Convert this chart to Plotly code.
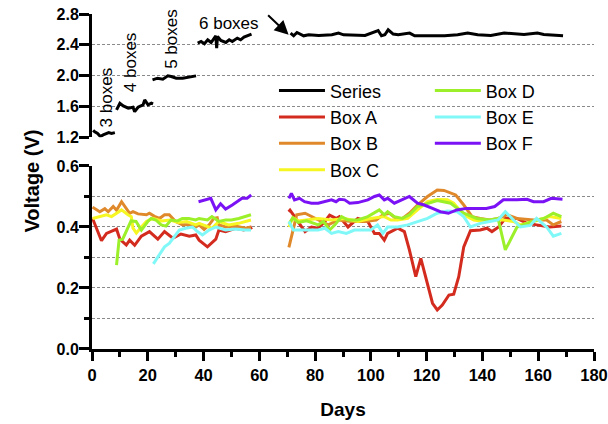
import plotly.graph_objects as go

# ---------------- data ----------------
series_days = [0.4, 1.0, 2.0, 3.0, 4.0, 5.0, 6.0, 7.0, 8.2, None,
               8.8, 10.0, 11.2, 13.0, 14.7, 15.3, 16.5, 17.7, 18.3, 18.9, 20.1, 21.3, 21.9, None,
               21.7, 23.5, 25.4, 26.6, 27.2, 28.4, 30.2, 32.5, 34.3, 35.5, 37.3, None,
               37.9, 39.1, 40.3, 41.5, 42.7, 43.8, 44.4, 44.7, 45.0, 46.2, 48.0, 49.2, 50.3, 52.1, 53.3, 54.5, 55.7, 57.2, None,
               71.2, 72.3, 73.5, 74.7, 75.9, 77.7, 81.3, 86.0, 88.4, 90.2, 97.9, 102.6, 103.8, 105.0, 106.2, 108.0,
               109.8, 113.9, 115.7, 120.5, 126.4, 131.1, 134.7, 138.3, 143.0, 147.8, 151.4, 154.9, 159.7, 162.0, 168.9]
series_volts = [1.29, 1.27, 1.25, 1.21, 1.23, 1.24, 1.26, 1.25, 1.26, None,
                1.555, 1.642, 1.607, 1.577, 1.59, 1.533, 1.59, 1.607, 1.62, 1.685, 1.62, 1.642, 1.633, None,
                1.945, 1.967, 1.954, 1.98, 1.997, 1.988, 1.967, 1.967, 1.975, 1.988, 1.997, None,
                2.422, 2.443, 2.413, 2.465, 2.43, 2.487, 2.517, 2.357, 2.508, 2.456, 2.43, 2.465, 2.443, 2.487, 2.465, 2.50, 2.517, 2.539, None,
                2.552, 2.517, 2.56, 2.539, 2.517, 2.53, 2.521, 2.53, 2.552, 2.53, 2.521, 2.586, 2.517, 2.53, 2.595, 2.539,
                2.53, 2.552, 2.517, 2.517, 2.517, 2.53, 2.552, 2.53, 2.521, 2.552, 2.543, 2.535, 2.552, 2.535, 2.517]

box_a_days = [0.2, 1.5, 3.4, 5.2, 7.0, 8.8, 10.0, 12.3, 13.5, 15.3, 17.7, 20.6, 23.6, 26.0, 29.0, 31.9, 34.9, 37.2, 38.4,
              41.4, 44.4, 45.5, 47.9, 51.4, 54.4, 56.8, 57.2, None,
              70.5, 71.0, 72.2, 73.4, 76.4, 78.7, 81.1, 83.5, 85.2, 87.5, 88.7, 91.8, 95.3, 98.9, 101.3, 103.0, 104.8,
              106.0, 109.6, 112.0, 113.8, 116.1, 117.9, 120.3, 122.1, 123.8, 125.6, 128.0, 129.7, 131.5, 133.3, 135.7,
              139.2, 141.6, 143.4, 145.8, 148.2, 152.4, 156.0, 159.4, 164.1, 168.3]
box_a_volts = [0.428, 0.40, 0.355, 0.379, 0.385, 0.393, 0.36, 0.341, 0.357, 0.34, 0.37, 0.385, 0.36, 0.385, 0.363, 0.377,
               0.37, 0.374, 0.357, 0.335, 0.36, 0.39, 0.385, 0.396, 0.39, 0.399, 0.392, None,
               0.45, 0.455, 0.44, 0.423, 0.385, 0.40, 0.396, 0.418, 0.439, 0.428, 0.434, 0.40, 0.428, 0.418, 0.379, 0.379,
               0.357, 0.379, 0.396, 0.385, 0.325, 0.237, 0.297, 0.215, 0.15, 0.128, 0.144, 0.177, 0.18, 0.237, 0.335,
               0.388, 0.39, 0.396, 0.385, 0.40, 0.428, 0.428, 0.412, 0.407, 0.40, 0.403]

box_b_days = [0.2, 2.8, 4.6, 5.8, 7.6, 8.8, 10.6, 12.3, 13.5, 14.7, 16.5, 19.5, 20.6, 22.4, 24.2, 26.0, 27.7, 30.0, 32.4,
              34.7, 37.2, 38.4, 40.2, 42.0, 43.7, 44.9, 45.5, 47.9, 51.4, 55.0, 57.0, None,
              70.6, 71.5, 72.6, 73.4, 76.4, 78.7, 81.1, 84.7, 88.3, 93.0, 97.8, 101.9, 104.3, 106.7, 109.0, 111.3,
              113.8, 116.7, 120.3, 123.8, 126.2, 128.6, 130.4, 133.3, 136.3, 139.2, 142.6, 145.6, 148.8, 152.4,
              158.3, 163.0, 165.4, 168.3]
box_b_volts = [0.465, 0.45, 0.46, 0.45, 0.467, 0.455, 0.483, 0.458, 0.445, 0.45, 0.443, 0.44, 0.445, 0.435, 0.428, 0.44,
               0.44, 0.418, 0.407, 0.407, 0.40, 0.407, 0.392, 0.407, 0.428, 0.43, 0.407, 0.40, 0.403, 0.396, 0.40, None,
               0.333, 0.367, 0.418, 0.44, 0.445, 0.434, 0.423, 0.407, 0.423, 0.418, 0.418, 0.423, 0.44, 0.445, 0.428,
               0.428, 0.445, 0.472, 0.50, 0.521, 0.52, 0.51, 0.505, 0.472, 0.434, 0.428, 0.423, 0.428, 0.44, 0.428,
               0.423, 0.423, 0.407, 0.418]

box_c_days = [0.2, 2.8, 5.2, 7.0, 9.4, 10.6, 12.9, 14.1, 14.7, 15.9, 17.7, 19.5, 21.8, 25.0, 28.0, 31.0, 34.0, 37.2,
              38.4, 43.0, 45.5, 49.0, 52.6, 57.0, None,
              70.6, 72.0, 74.0, 78.0, 81.1, 85.9, 90.6, 95.3, 100.0, 104.8, 107.2, 109.6, 113.2, 116.7, 120.3, 123.8,
              127.4, 129.7, 133.3, 136.9, 140.4, 144.0, 147.5, 151.1, 153.6, 158.3, 164.1, 168.3]
box_c_volts = [0.428, 0.434, 0.44, 0.434, 0.45, 0.456, 0.44, 0.434, 0.396, 0.38, 0.40, 0.418, 0.428, 0.42, 0.423, 0.415,
               0.418, 0.407, 0.412, 0.396, 0.418, 0.407, 0.412, 0.423, None,
               0.40, 0.43, 0.42, 0.425, 0.428, 0.423, 0.428, 0.418, 0.428, 0.434, 0.423, 0.423, 0.428, 0.456, 0.483,
               0.49, 0.489, 0.478, 0.44, 0.423, 0.418, 0.423, 0.423, 0.418, 0.407, 0.418, 0.434, 0.428]

box_d_days = [8.8, 9.7, 11.0, 12.5, 14.0, 15.8, 17.7, 20.0, 21.2, 22.9, 24.8, 26.5, 28.3, 30.7, 32.4, 34.7, 37.2, 38.4,
              41.4, 43.0, 45.5, 47.9, 50.0, 52.6, 55.0, 57.0, None,
              70.6, 72.0, 74.0, 77.0, 81.1, 83.0, 85.2, 87.1, 89.5, 91.8, 95.3, 98.9, 103.0, 104.8, 106.0, 108.4,
              111.3, 113.8, 116.7, 120.3, 123.8, 128.6, 133.3, 138.0, 142.6, 145.6, 148.2, 152.4, 156.0, 159.4,
              162.0, 165.4, 168.3]
box_d_volts = [0.275, 0.357, 0.36, 0.39, 0.42, 0.418, 0.39, 0.418, 0.428, 0.423, 0.407, 0.403, 0.423, 0.42, 0.428, 0.428,
               0.423, 0.428, 0.423, 0.434, 0.418, 0.423, 0.423, 0.428, 0.434, 0.44, None,
               0.41, 0.43, 0.415, 0.42, 0.407, 0.418, 0.39, 0.407, 0.434, 0.423, 0.423, 0.434, 0.456, 0.44, 0.45, 0.434,
               0.428, 0.44, 0.467, 0.478, 0.487, 0.478, 0.445, 0.428, 0.423, 0.428, 0.325, 0.40, 0.412, 0.423,
               0.428, 0.445, 0.434]

box_e_days = [22.0, 24.2, 26.0, 27.7, 29.5, 31.3, 33.6, 36.0, 37.8, 39.6, 42.0, 44.4, 47.9, 51.4, 55.0, 57.0, None,
              70.6, 72.2, 76.4, 81.1, 83.5, 85.9, 88.3, 91.2, 94.1, 97.0, 100.0, 102.4, 104.3, 106.0, 109.6, 113.2,
              116.7, 120.3, 123.8, 127.4, 131.0, 133.3, 135.7, 139.2, 142.6, 145.6, 148.2, 151.1, 153.6, 157.1,
              159.4, 163.0, 165.4, 168.3]
box_e_volts = [0.279, 0.31, 0.335, 0.346, 0.368, 0.39, 0.396, 0.40, 0.385, 0.374, 0.39, 0.40, 0.39, 0.393, 0.39, 0.39, None,
               0.418, 0.39, 0.39, 0.39, 0.396, 0.379, 0.385, 0.379, 0.39, 0.39, 0.39, 0.407, 0.379, 0.40, 0.40, 0.407,
               0.418, 0.428, 0.445, 0.452, 0.45, 0.434, 0.40, 0.412, 0.418, 0.423, 0.45, 0.423, 0.40, 0.405,
               0.428, 0.40, 0.37, 0.379]

box_f_days = [38.2, 40.2, 42.6, 44.4, 46.1, 47.9, 50.3, 53.8, 55.6, 57.1, None,
              70.6, 71.5, 72.6, 74.4, 76.2, 78.7, 81.1, 83.5, 85.9, 87.5, 88.7, 90.6, 92.4, 95.3, 98.9, 101.3, 103.0,
              104.8, 106.0, 108.4, 111.3, 113.8, 116.7, 119.1, 122.1, 124.9, 127.8, 130.8, 134.3, 137.9, 141.4,
              144.4, 147.5, 152.4, 156.0, 158.3, 161.9, 164.7, 168.7]
box_f_volts = [0.483, 0.489, 0.494, 0.456, 0.476, 0.459, 0.472, 0.494, 0.494, 0.505, None,
               0.494, 0.51, 0.489, 0.494, 0.483, 0.478, 0.478, 0.483, 0.489, 0.483, 0.491, 0.489, 0.478, 0.48, 0.489,
               0.50, 0.505, 0.489, 0.494, 0.478, 0.489, 0.50, 0.478, 0.472, 0.461, 0.45, 0.445, 0.456, 0.461, 0.461,
               0.461, 0.467, 0.489, 0.489, 0.491, 0.483, 0.483, 0.494, 0.491]

box_names = ["Box A", "Box B", "Box C", "Box D", "Box E", "Box F"]
box_colors = ["#D42B1F", "#E0892B", "#F6F622", "#9CF02A", "#80F8F8", "#7A12F5"]
box_days = [box_a_days, box_b_days, box_c_days, box_d_days, box_e_days, box_f_days]
box_volts = [box_a_volts, box_b_volts, box_c_volts, box_d_volts, box_e_volts, box_f_volts]

x_ticks = list(range(0, 181, 20))
y_low_ticks = [0.0, 0.2, 0.4, 0.6]
y_high_ticks = [1.2, 1.6, 2.0, 2.4, 2.8]

FONT = "Liberation Sans, Arial, Helvetica, sans-serif"
GRID = "#8a8a8a"

fig = go.Figure()
fig.add_trace(go.Scatter(x=series_days, y=series_volts, mode="lines", name="Series",
                         line=dict(color="black", width=3), xaxis="x", yaxis="y2",
                         legend="legend", connectgaps=False))
for i, (nm, col, dd, vv) in enumerate(zip(box_names, box_colors, box_days, box_volts)):
    fig.add_trace(go.Scatter(x=dd, y=vv, mode="lines", name=nm,
                             line=dict(color=col, width=3), xaxis="x", yaxis="y",
                             legend="legend" if i < 3 else "legend2", connectgaps=False))

axis_common = dict(showline=True, linewidth=3, linecolor="black", ticks="outside",
                   tickwidth=3, tickcolor="black", zeroline=False, mirror=False, automargin=False)

fig.update_layout(
    width=608, height=424,
    margin=dict(l=92, r=14, t=14, b=75),
    paper_bgcolor="white", plot_bgcolor="white",
    font=dict(family=FONT, color="black"),
    xaxis=dict(range=[0, 180], tickvals=x_ticks, ticklen=9, anchor="y",
               showgrid=False, ticklabelstandoff=0, ticklabeloverflow="allow",
               tickfont=dict(size=16.5, weight="bold", family=FONT),
               minor=dict(dtick=10, ticklen=5, tickwidth=3, tickcolor="black", ticks="outside"),
               title=dict(text="Days", font=dict(size=19, weight="bold", family=FONT), standoff=20),
               **axis_common),
    yaxis=dict(domain=[0, 0.5463], range=[0, 0.6], tickvals=y_low_ticks, tickformat=".1f",
               ticklen=10, anchor="x", showgrid=True, gridcolor=GRID, gridwidth=1, griddash="3px,2px",
               ticklabelstandoff=-3,
               tickfont=dict(size=16, weight="bold", family=FONT),
               minor=dict(dtick=0.1, ticklen=5, tickwidth=3, tickcolor="black", ticks="outside",
                          showgrid=True, gridcolor=GRID, gridwidth=1, griddash="3px,2px"),
               **axis_common),
    yaxis2=dict(domain=[0.632, 1], range=[1.2, 2.8], tickvals=y_high_ticks, tickformat=".1f",
                ticklen=10, anchor="x", showgrid=True, gridcolor=GRID, gridwidth=1, griddash="3px,2px",
                ticklabelstandoff=-3,
                tickfont=dict(size=16, weight="bold", family=FONT),
                **axis_common),
    legend=dict(x=0.3625, y=0.826, xanchor="left", yanchor="top", bgcolor="rgba(0,0,0,0)",
                font=dict(size=18, family=FONT), itemwidth=46, tracegroupgap=0),
    legend2=dict(x=0.673, y=0.826, xanchor="left", yanchor="top", bgcolor="rgba(0,0,0,0)",
                 font=dict(size=18, family=FONT), itemwidth=46, tracegroupgap=0),
    showlegend=True,
)

# white panel behind the legends
fig.add_shape(type="rect", xref="paper", yref="paper", x0=0.3486, x1=0.9283, y0=0.500, y1=0.800,
              fillcolor="white", line=dict(width=0), layer="between")

ann_font = dict(size=17, family=FONT, color="black")
fig.add_annotation(x=5.2, y=1.711, xref="x", yref="y2", text="3 boxes", textangle=-90,
                   showarrow=False, font=ann_font)
fig.add_annotation(x=14.1, y=2.179, xref="x", yref="y2", text="4 boxes", textangle=-90,
                   showarrow=False, font=ann_font)
fig.add_annotation(x=28.7, y=2.478, xref="x", yref="y2", text="5 boxes", textangle=-90,
                   showarrow=False, font=ann_font)
fig.add_annotation(x=49.1, y=2.673, xref="x", yref="y2", text="6 boxes",
                   showarrow=False, font=ann_font)
fig.add_annotation(x=70.5, y=2.53, xref="x", yref="y2", text="", showarrow=True,
                   ax=-22, ay=-21, arrowhead=2, arrowsize=1.4, arrowwidth=2, arrowcolor="black")
fig.add_annotation(x=-0.1474, y=0.5, xref="paper", yref="paper", text="Voltage (V)", textangle=-90,
                   showarrow=False, font=dict(size=20, weight="bold", family=FONT, color="black"))

fig.write_html("out.html")
